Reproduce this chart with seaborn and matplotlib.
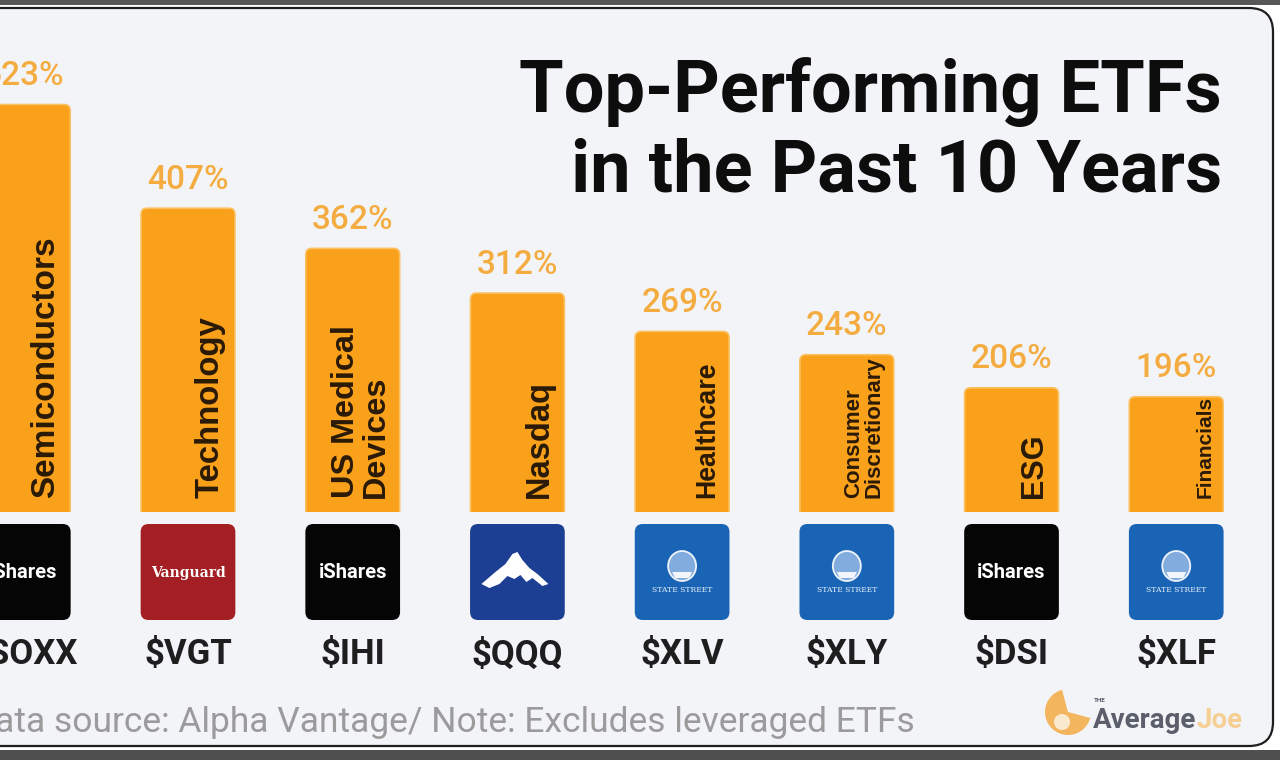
import numpy as np
import pandas as pd
import matplotlib.pyplot as plt
import seaborn as sns
from matplotlib.patches import FancyBboxPatch, Rectangle, Polygon, Circle, Wedge, Ellipse

# data
tickers = ["$SOXX", "$VGT", "$IHI", "$QQQ", "$XLV", "$XLY", "$DSI", "$XLF"]
returns = [523, 407, 362, 312, 269, 243, 206, 196]
sectors = ["Semiconductors", "Technology", "US Medical\nDevices", "Nasdaq",
           "Healthcare", "Consumer\nDiscretionary", "ESG", "Financials"]
sector_sizes = [24, 23.7, 23.3, 23.5, 19.3, 16, 22, 15]
issuers = ["ishares", "vanguard", "ishares", "invesco",
           "statestreet", "statestreet", "ishares", "statestreet"]

df = pd.DataFrame({"ticker": tickers, "ret": returns, "sector": sectors})

sns.set_theme(style="white")
plt.rcParams["font.family"] = ["Roboto", "DejaVu Sans"]

BAR = "#F9A11B"
LABEL = "#F4AC40"
BG = "#F3F4F8"
logo_colors = {"ishares": "#050505", "vanguard": "#A31F24",
               "invesco": "#1C3F94", "statestreet": "#1A64B5"}

W, H = 1280, 760
fig = plt.figure(figsize=(12.8, 7.6), dpi=100)
fig.patch.set_facecolor("white")

# background card, pixel coordinates
ax_bg = fig.add_axes([0, 0, 1, 1], zorder=0)
ax_bg.set_xlim(0, W)
ax_bg.set_ylim(H, 0)
ax_bg.axis("off")
ax_bg.add_patch(Rectangle((0, 0), W, 5, fc="#575757", ec="none"))
ax_bg.add_patch(FancyBboxPatch((-60, 8), 1333, 738,
                               boxstyle="round,pad=0,rounding_size=24",
                               fc=BG, ec="#1e1e1e", lw=1.6))
ax_bg.add_patch(Rectangle((0, 750), W, 10, fc="#4f4f4f", ec="none"))

ax_bg.text(1222, 112, "Top-Performing ETFs", ha="right", va="baseline",
           fontsize=52, fontweight="bold", color="#0d0d0d")
ax_bg.text(1222, 192, "in the Past 10 Years", ha="right", va="baseline",
           fontsize=52, fontweight="bold", color="#0d0d0d")

ax_bg.text(915, 732, "Data source: Alpha Vantage/ Note: Excludes leveraged ETFs",
           ha="right", va="baseline", fontsize=25.5, color="#9b9b9b")

# AverageJoe mark
ax_bg.add_patch(Wedge((1068, 712), 23, 15, 255, fc="#F4B04E", ec="none", alpha=0.9))
ax_bg.add_patch(Circle((1062, 722), 8, fc="white", ec="none", alpha=0.7))
ax_bg.text(1094, 702, "THE", fontsize=4.5, fontweight="bold", color="#555a66", va="baseline")
avg = ax_bg.text(1093, 728, "Average", fontsize=20, fontweight="bold",
                 color="#5a5f6b", va="baseline")
fig.canvas.draw()
x_end = ax_bg.transData.inverted().transform(
    avg.get_window_extent(fig.canvas.get_renderer()).get_points())[1, 0]
ax_bg.text(x_end, 728, "Joe", fontsize=20, fontweight="bold",
           color="#F6CF95", va="baseline")

# bars (the original's scale is not zero based, so the axis starts above 0)
xlim = (-0.1415, 7.63)
ylim = (67, 640)
ax = fig.add_axes([0, 248 / H, 1, 512 / H], zorder=1)
ax.set_facecolor("none")
sns.barplot(data=df, x="ticker", y="ret", color=BAR, width=0.57,
            saturation=1, ax=ax)
ax.set_xlim(*xlim)
ax.set_ylim(*ylim)
ax.axis("off")

ax.bar_label(ax.containers[0], labels=[f"{v}%" for v in returns],
             padding=9, fontsize=24, fontweight="medium", color=LABEL)

px_x = W / (xlim[1] - xlim[0])
px_y = 512 / (ylim[1] - ylim[0])
r = 6 / px_x
for p, name, fs in zip(ax.patches, sectors, sector_sizes):
    x0, w, h = p.get_x(), p.get_width(), p.get_height()
    p.set_visible(False)
    ax.add_patch(FancyBboxPatch((x0, 0), w, h,
                                boxstyle=f"round,pad=0,rounding_size={r}",
                                mutation_aspect=(6 / px_y) / r,
                                fc=BAR, ec="#FBC060", lw=1.2))
    ax.text(x0 + w - 9 / px_x, ylim[0] + 14 / px_y, name, rotation=90,
            rotation_mode="anchor", ha="left", va="bottom",
            fontsize=fs, fontweight="bold", color="#2a1a06", linespacing=1.0,
            family=["Liberation Sans", "DejaVu Sans"])

# logos and tickers underneath
ax2 = fig.add_axes([0, 0, 1, 248 / H], zorder=1)
ax2.set_facecolor("none")
ax2.set_xlim(*xlim)
ax2.set_ylim(H, 512)
ax2.axis("off")

rl = 8 / px_x
for i, (t, iss) in enumerate(zip(tickers, issuers)):
    ax2.add_patch(FancyBboxPatch((i - 0.2875, 524), 0.575, 96,
                                 boxstyle=f"round,pad=0,rounding_size={rl}",
                                 mutation_aspect=8 / rl,
                                 fc=logo_colors[iss], ec="none"))
    if iss == "ishares":
        ax2.text(i, 573, "iShares", ha="center", va="center",
                 fontsize=14.5, color="white", fontweight="bold")
    elif iss == "vanguard":
        ax2.text(i, 573, "Vanguard", ha="center", va="center", fontsize=10,
                 color="white", fontweight="bold", family="DejaVu Serif")
    elif iss == "invesco":
        shape = np.array([(-36, 10), (-22, -2), (-12, -10), (-5, -20), (0, -22),
                          (5, -14), (12, -6), (20, 0), (31, 10), (25, 12),
                          (15, 4), (9, 8), (3, 1), (-3, 5), (-10, 2),
                          (-18, 10), (-28, 14)])
        ax2.add_patch(Polygon(np.c_[i + shape[:, 0] / px_x, 574 + shape[:, 1]],
                              closed=True, fc="white", ec="none"))
    else:
        ax2.add_patch(Ellipse((i, 566), 28 / px_x, 30, fc="#8fb5e3",
                              ec="white", lw=1.3, alpha=0.9))
        ax2.add_patch(Polygon(np.c_[i + np.array([-10, 10, 7, -7]) / px_x,
                                    [572, 572, 578, 578]],
                              closed=True, fc="white", ec="none", alpha=0.9))
        ax2.text(i, 590, "STATE STREET", ha="center", va="center",
                 fontsize=5.5, color="#e6eef8", family="DejaVu Serif")
    ax2.text(i, 655, t, ha="center", va="center", fontsize=25,
             fontweight="bold", color="#1e1e1e")

fig.savefig("out.png", dpi=100, facecolor=fig.get_facecolor())
